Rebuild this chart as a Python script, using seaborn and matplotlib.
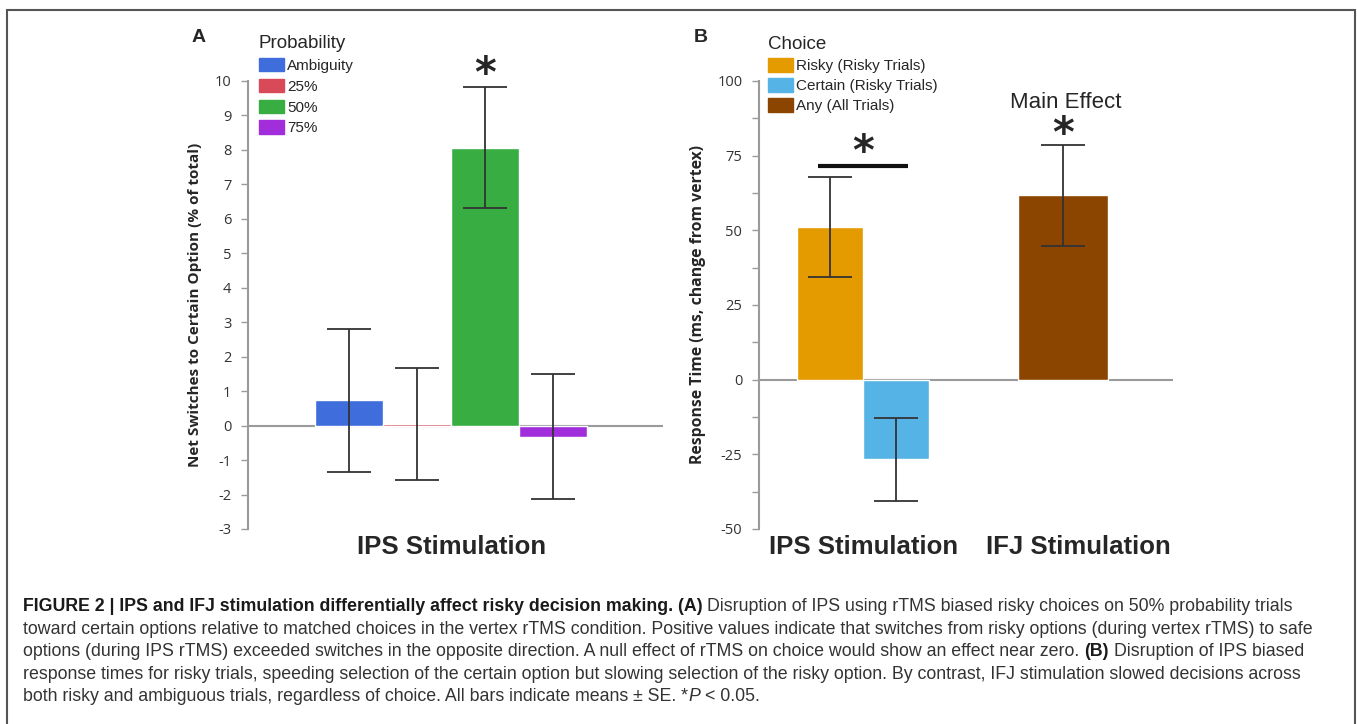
import numpy as np
import pandas as pd
import seaborn as sns
import matplotlib.pyplot as plt
from matplotlib.patches import Patch, Rectangle
from matplotlib.ticker import MultipleLocator
from matplotlib.transforms import ScaledTranslation

# Panel A: net switches to certain option, IPS stimulation
prob_levels = ["Ambiguity", "25%", "50%", "75%"]
prob_means = [0.73, 0.05, 8.07, -0.32]
prob_se = [2.07, 1.63, 1.76, 1.81]
prob_colors = ["#3f6ddb", "#d84a58", "#38ae42", "#a22ddb"]

# Panel B: response time change from vertex
sites = ["IPS Stimulation", "IFJ Stimulation"]
choice_levels = ["Risky (Risky Trials)", "Certain (Risky Trials)", "Any (All Trials)"]
choice_site = ["IPS Stimulation", "IPS Stimulation", "IFJ Stimulation"]
rt_means = [51.1, -26.7, 61.7]
rt_se = [16.7, 13.85, 17.0]
choice_colors = ["#e39b00", "#55b3e6", "#8b4500"]

sns.set_style("white")
plt.rcParams["font.family"] = ["Liberation Sans", "DejaVu Sans"]
plt.rcParams["axes.unicode_minus"] = False

W, H = 1357, 724
fig = plt.figure(figsize=(W / 100, H / 100), dpi=100)
axA = fig.add_axes([248 / W, 1 - 529 / H, 415 / W, 448 / H])
axB = fig.add_axes([759 / W, 1 - 529 / H, 414 / W, 448 / H])

grey = "#9a9a9a"
err_kw = dict(fmt="none", ecolor="#333333", elinewidth=1.3, capsize=16, capthick=1.3)
star_kw = dict(ha="center", va="center", fontsize=30, fontweight="bold",
               family="DejaVu Sans", clip_on=False)

# ---- panel A
df_a = pd.DataFrame({"site": "IPS Stimulation", "prob": prob_levels, "value": prob_means})
sns.barplot(data=df_a, x="site", y="value", hue="prob", hue_order=prob_levels,
            palette=prob_colors, width=0.8, errorbar=None, saturation=1,
            legend=False, ax=axA)
for p, m, se in zip(axA.patches, prob_means, prob_se):
    axA.errorbar(p.get_x() + p.get_width() / 2, m, yerr=se, **err_kw)
axA.set_xlim(-0.598, 0.624)
axA.set_ylim(-3, 10)
axA.yaxis.set_major_locator(MultipleLocator(1))

# star over 50% bar
star_x = axA.patches[2].get_x() + axA.patches[2].get_width() / 2
axA.text(star_x, 10.18, "*", **star_kw)

axA.set_ylabel("Net Switches to Certain Option (% of total)", fontsize=11,
               fontweight="bold", family="Open Sans")
axA.yaxis.set_label_coords(-0.111, 0.5)
axA.legend(handles=[Patch(facecolor=c, edgecolor=c) for c in prob_colors], labels=prob_levels,
           title="Probability", loc="upper left", bbox_to_anchor=(259 / W, 1 - 35 / H),
           bbox_transform=fig.transFigure, frameon=False, fontsize=11, title_fontsize=13.5,
           handlelength=1.65, handleheight=1.0, handletextpad=0.2, labelspacing=0.38,
           borderaxespad=0, borderpad=0, alignment="left")
fig.text(199 / W, 1 - 37 / H, "A", fontsize=14, fontweight="bold", ha="center", va="center")

# ---- panel B
df_b = pd.DataFrame({"site": choice_site, "choice": choice_levels, "value": rt_means})
ips = df_b[df_b["site"] == sites[0]]
ifj = df_b[df_b["site"] == sites[1]]
sns.barplot(data=ips, x="site", y="value", hue="choice", hue_order=choice_levels[:2],
            order=sites, palette=choice_colors[:2], width=0.66, errorbar=None,
            saturation=1, legend=False, ax=axB)
sns.barplot(data=ifj, x="site", y="value", hue="choice", hue_order=choice_levels[2:],
            order=sites, palette=choice_colors[2:], width=0.45, errorbar=None,
            saturation=1, legend=False, ax=axB)
bars_b = [p for p in axB.patches if p.get_height() != 0]
for p, m, se in zip(bars_b, rt_means, rt_se):
    axB.errorbar(p.get_x() + p.get_width() / 2, m, yerr=se, **err_kw)
axB.set_xlim(-0.522, 1.551)
axB.set_ylim(-50, 100)
axB.yaxis.set_major_locator(MultipleLocator(25))
axB.yaxis.set_minor_locator(MultipleLocator(12.5))

# significance bar between risky and certain
r_c = bars_b[0].get_x() + bars_b[0].get_width() / 2
c_c = bars_b[1].get_x() + bars_b[1].get_width() / 2
axB.plot([r_c - 0.06, c_c + 0.06], [71.5, 71.5], color="#111111", lw=3, solid_capstyle="butt")
axB.text(0.0, 75.8, "*", **star_kw)
any_c = bars_b[2].get_x() + bars_b[2].get_width() / 2
axB.text(any_c, 81.8, "*", **star_kw)
axB.text(any_c + 0.015, 92.9, "Main Effect", ha="center", va="center", fontsize=16)

axB.set_ylabel("Response Time (ms, change from vertex)", fontsize=11.3,
               fontweight="bold", family="Open Sans")
axB.yaxis.set_label_coords(-0.128, 0.5)
axB.legend(handles=[Patch(facecolor=c, edgecolor=c) for c in choice_colors], labels=choice_levels,
           title="Choice", loc="upper left", bbox_to_anchor=(768 / W, 1 - 36 / H),
           bbox_transform=fig.transFigure, frameon=False, fontsize=11, title_fontsize=13.5,
           handlelength=1.65, handleheight=1.0, handletextpad=0.2, labelspacing=0.33,
           borderaxespad=0, borderpad=0, alignment="left")
fig.text(701 / W, 1 - 37 / H, "B", fontsize=14, fontweight="bold", ha="center", va="center")

# ---- shared axis styling
for ax in (axA, axB):
    for side in ("top", "right", "bottom"):
        ax.spines[side].set_visible(False)
    ax.spines["left"].set_color(grey)
    ax.spines["left"].set_linewidth(1.5)
    ax.axhline(0, color=grey, lw=1.5, zorder=0.5)
    ax.set_xlabel("")
    ax.tick_params(axis="y", which="both", left=True, length=5, width=1, color=grey,
                   pad=7, labelcolor="#333333")
    ax.tick_params(axis="x", length=0, pad=4)
    for lab in ax.get_yticklabels():
        lab.set_fontfamily("Open Sans")
        lab.set_fontsize(10.5)
    for lab in ax.get_xticklabels():
        lab.set_fontsize(18.5)
        lab.set_fontweight("bold")

# IFJ label sits a little right of its bar in the reference
ifj_lab = axB.get_xticklabels()[1]
ifj_lab.set_transform(ifj_lab.get_transform() + ScaledTranslation(0.15, 0, fig.dpi_scale_trans))

# ---- caption
renderer = fig.canvas.get_renderer()
cap_size = 12.75
cap_color = "#333333"
caption_lines = [
    [("FIGURE 2 | IPS and IFJ stimulation differentially affect risky decision making. (A)", "bold"),
     (" Disruption of IPS using rTMS biased risky choices on 50% probability trials", "normal")],
    [("toward certain options relative to matched choices in the vertex rTMS condition. "
      "Positive values indicate that switches from risky options (during vertex rTMS) to safe", "normal")],
    [("options (during IPS rTMS) exceeded switches in the opposite direction. A null effect of "
      "rTMS on choice would show an effect near zero.", "normal"),
     (" (B)", "bold"), (" Disruption of IPS biased", "normal")],
    [("response times for risky trials, speeding selection of the certain option but slowing "
      "selection of the risky option. By contrast, IFJ stimulation slowed decisions across", "normal")],
    [("both risky and ambiguous trials, regardless of choice. All bars indicate means \u00b1 SE. *", "normal"),
     ("P", "italic"), (" < 0.05.", "normal")],
]
probe = fig.text(0, 0, "x x", fontsize=cap_size)
probe2 = fig.text(0, 0, "xx", fontsize=cap_size)
space_w = (probe.get_window_extent(renderer).width - probe2.get_window_extent(renderer).width) / W
probe.remove()
probe2.remove()

baselines = [611, 633.6, 656.2, 678.8, 701.4]
for base, runs in zip(baselines, caption_lines):
    x = 23 / W
    for s, style in runs:
        if s.startswith(" "):
            x += space_w
            s = s[1:]
        t = fig.text(x, 1 - base / H, s, fontsize=cap_size, va="baseline",
                     color="#1a1a1a" if style == "bold" else cap_color,
                     fontweight="bold" if style == "bold" else "normal",
                     fontstyle="italic" if style == "italic" else "normal")
        x += t.get_window_extent(renderer).width / W

# figure frame
fig.patches.append(Rectangle((7 / W, -0.05), (1355 - 7) / W, 1 - 10 / H + 0.05,
                             transform=fig.transFigure, fill=False, edgecolor="#555555",
                             lw=1.5, zorder=10))

fig.savefig("out.png", dpi=100)
